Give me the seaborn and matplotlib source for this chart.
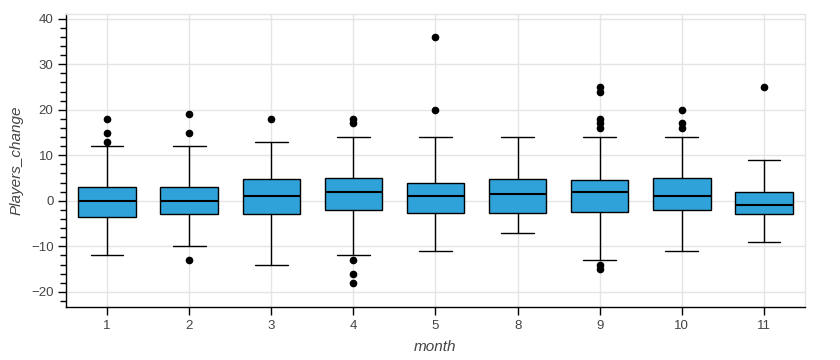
import matplotlib
matplotlib.use("Agg")
import matplotlib.pyplot as plt
import seaborn as sns
import numpy as np
from matplotlib.ticker import MultipleLocator

months = ["1", "2", "3", "4", "5", "8", "9", "10", "11"]
q1 = [-3.5, -3, -3, -2, -2.75, -2.75, -2.5, -2, -3]
median = [0, 0, 1, 2, 1, 1.5, 2, 1, -1]
q3 = [3, 3, 4.75, 5, 4, 4.75, 4.5, 5, 2]
whisker_low = [-12, -10, -14, -12, -11, -7, -13, -11, -9]
whisker_high = [12, 12, 13, 14, 14, 14, 14, 14, 9]
outliers = [
    [18, 15, 13],
    [19, 15, -13],
    [18],
    [18, 17, -13, -16, -18],
    [36, 20],
    [],
    [25, 24, 18, 17, 16, -14, -15],
    [20, 17, 16],
    [25],
]

sns.set_theme(style="whitegrid")
plt.rcParams['font.family'] = ['Liberation Sans', 'DejaVu Sans']

fig = plt.figure(figsize=(8.4, 3.6), dpi=100)
ax = fig.add_axes([66/840, 1 - 307.3/360, (805 - 66)/840, (307.3 - 13.7)/360])

stats = []
for i, m in enumerate(months):
    stats.append(dict(label=m, q1=q1[i], med=median[i], q3=q3[i],
                      whislo=whisker_low[i], whishi=whisker_high[i],
                      fliers=outliers[i]))

ax.bxp(stats, positions=np.arange(len(months)), widths=0.7, patch_artist=True,
       showfliers=True,
       boxprops=dict(facecolor="#30a2da", edgecolor="black", linewidth=1.0),
       medianprops=dict(color="black", linewidth=1.5),
       whiskerprops=dict(color="black", linewidth=1.0),
       capprops=dict(color="black", linewidth=1.0),
       capwidths=0.4,
       flierprops=dict(marker="o", markerfacecolor="black", markeredgecolor="black",
                       markersize=4.5, linestyle="none"))

ax.set_xlim(-0.5, len(months) - 0.5)
ax.set_ylim(-23.4, 41.1)
ax.set_xticks(np.arange(len(months)))
ax.set_xticklabels(months)
ax.yaxis.set_major_locator(MultipleLocator(10))
ax.yaxis.set_minor_locator(MultipleLocator(2))

ax.grid(True, which="major", color="#e5e5e5", linewidth=1.0)
ax.grid(False, which="minor")
ax.set_axisbelow(True)
ax.set_facecolor("white")

for s in ["top", "right"]:
    ax.spines[s].set_color("#e5e5e5")
    ax.spines[s].set_linewidth(1.0)
for s in ["left", "bottom"]:
    ax.spines[s].set_color("black")
    ax.spines[s].set_linewidth(1.0)

ax.tick_params(axis="both", which="major", direction="out", length=6, width=1,
               color="black", labelcolor="#444444", labelsize=9.5, pad=3,
               left=True, bottom=True)
ax.tick_params(axis="y", which="minor", direction="out", length=4, width=1,
               color="black", left=True)

ax.set_xlabel("month", fontsize=11, fontstyle="italic", color="#444444", labelpad=6)
ax.set_ylabel("Players_change", fontsize=11, fontstyle="italic", color="#444444", labelpad=5)

fig.savefig("out.png", dpi=100)
